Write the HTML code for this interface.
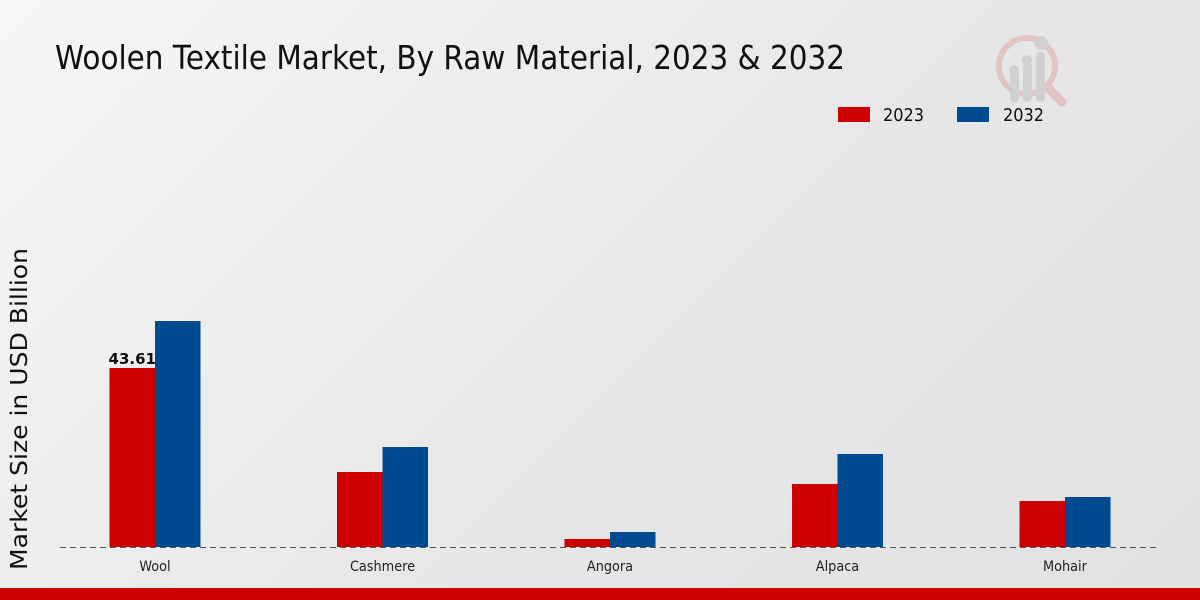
<!DOCTYPE html>
<html><head><meta charset="utf-8">
<style>
html,body{margin:0;padding:0;}
body{width:1200px;height:600px;overflow:hidden;background:linear-gradient(135deg,#f6f6f6 0%,#e6e6e6 60%,#e2e2e2 100%);font-family:"DejaVu Sans","Liberation Sans",sans-serif;}
svg{display:block}
</style></head>
<body>
<svg id="chart" width="1200" height="600" viewBox="0 0 1200 600" xmlns="http://www.w3.org/2000/svg">
  <text x="55" y="69" font-size="33" fill="#111" textLength="790" lengthAdjust="spacingAndGlyphs">Woolen Textile Market, By Raw Material, 2023 &amp; 2032</text>
  <g opacity="0.35">
    <circle cx="1027" cy="66" r="28" fill="none" stroke="#d88" stroke-width="6"/>
    <line x1="1048" y1="88" x2="1062" y2="102" stroke="#d88" stroke-width="9" stroke-linecap="round"/>
    <rect x="1010" y="72" width="9" height="30" rx="4" fill="#aaa"/>
    <rect x="1023" y="62" width="9" height="40" rx="4" fill="#aaa"/>
    <rect x="1036" y="52" width="9" height="50" rx="4" fill="#aaa"/>
    <circle cx="1014" cy="70" r="5" fill="#aaa"/><circle cx="1027" cy="60" r="5" fill="#aaa"/><circle cx="1041" cy="43" r="7" fill="#aaa"/>
  </g>
  <g>
    <rect x="838" y="107" width="32" height="15" fill="#cc0000"/>
    <text x="883" y="121" font-size="18" fill="#111" textLength="41" lengthAdjust="spacingAndGlyphs">2023</text>
    <rect x="957" y="107" width="32" height="15" fill="#004a8f"/>
    <text x="1003" y="121" font-size="18" fill="#111" textLength="41" lengthAdjust="spacingAndGlyphs">2032</text>
  </g>
  <text transform="translate(27,409) rotate(-90)" text-anchor="middle" font-size="23" fill="#111" textLength="322" lengthAdjust="spacingAndGlyphs">Market Size in USD Billion</text>
  <line x1="60" y1="547.5" x2="1160" y2="547.5" stroke="#555" stroke-dasharray="6,4" stroke-width="1"/>
  <g id="bars"></g>
  <g id="xlabels"></g>
  <rect x="0" y="588" width="1200" height="12" fill="#cc0000"/>
</svg>
<script>
const categories = ["Wool","Cashmere","Angora","Alpaca","Mohair"];
const values2023 = [43.61,18.27,1.95,15.35,11.2];
const values2032 = [55.06,24.36,3.65,22.66,12.18];
const shownLabels = ["43.61",null,null,null,null];

const NS="http://www.w3.org/2000/svg";
const baseY=547, pxPerUnit=179/43.61;
const x0=155, step=227.5, bw=45.5;
function xCenter(i){return x0+i*step;}
function yScale(v){return baseY - v*pxPerUnit;}
const bars=document.getElementById('bars');
const xl=document.getElementById('xlabels');
function bar(x,v,color,name){
  const r=document.createElementNS(NS,'rect');
  r.setAttribute('x',x);r.setAttribute('y',yScale(v));
  r.setAttribute('width',bw);r.setAttribute('height',baseY-yScale(v));
  r.setAttribute('fill',color);
  
  
  bars.appendChild(r);
}
categories.forEach((c,i)=>{
  const cx=xCenter(i);
  bar(cx-bw,values2023[i],'#cc0000','bar-'+c.toLowerCase()+'-2023');
  bar(cx,values2032[i],'#004a8f','bar-'+c.toLowerCase()+'-2032');
  const t=document.createElementNS(NS,'text');
  t.setAttribute('x',cx);t.setAttribute('y',571);
  t.setAttribute('text-anchor','middle');t.setAttribute('font-size','14');t.setAttribute('fill','#222');
  t.setAttribute('transform','translate('+cx+',0) scale(0.92,1) translate('+(-cx)+',0)');
  t.textContent=c;
  
  
  xl.appendChild(t);
  if(shownLabels[i]){
    const l=document.createElementNS(NS,'text');
    l.setAttribute('x',cx-bw/2);l.setAttribute('y',yScale(values2023[i])-4);
    l.setAttribute('text-anchor','middle');l.setAttribute('font-size','15');l.setAttribute('font-weight','bold');l.setAttribute('fill','#111');
    l.textContent=shownLabels[i];
    
    
    bars.appendChild(l);
  }
});
</script>
</body></html>
